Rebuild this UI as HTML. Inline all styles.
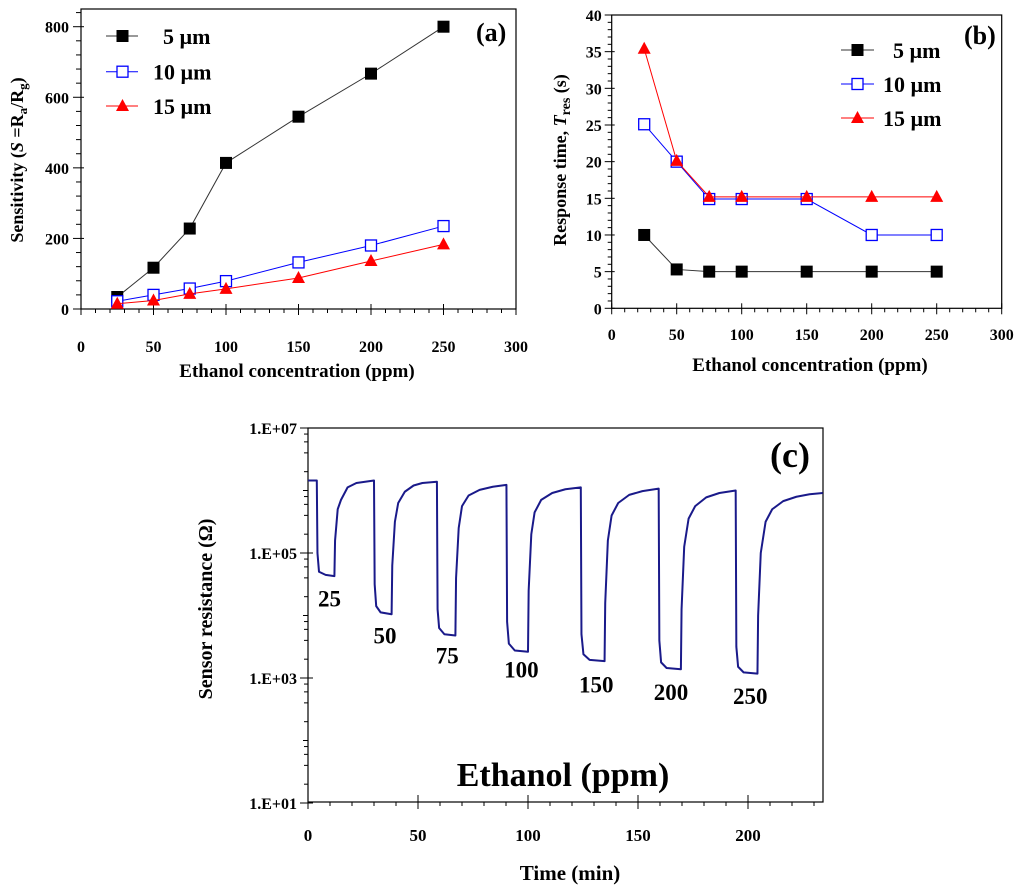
<!DOCTYPE html>
<html><head><meta charset="utf-8"><style>
html,body{margin:0;padding:0;background:#fff;}
svg{display:block;font-family:"Liberation Serif",serif;font-weight:bold;}
</style></head><body>
<svg id="fig" width="1024" height="888" viewBox="0 0 1024 888"></svg>
<script>
// ---------- Panel (a) data ----------
const aConc = [25, 50, 75, 100, 150, 200, 250];
const aS5 = [34, 117, 228, 414, 545, 667, 800];
const aS10 = [22, 40, 58, 79, 132, 180, 235];
const aS15 = [15, 24, 43, 57, 88, 136, 183];
const aXTicks = [0, 50, 100, 150, 200, 250, 300];
const aYTicks = [0, 200, 400, 600, 800];
// ---------- Panel (b) data ----------
const bConc = [25, 50, 75, 100, 150, 200, 250];
const bT5 = [10, 5.3, 5, 5, 5, 5, 5];
const bT10 = [25.1, 20, 14.9, 14.9, 14.9, 10, 10];
const bT15 = [35.4, 20.1, 15.2, 15.2, 15.2, 15.2, 15.2];
const bXTicks = [0, 50, 100, 150, 200, 250, 300];
const bYTicks = [0, 5, 10, 15, 20, 25, 30, 35, 40];
// ---------- Panel (c) data ----------
const cTime = [0,4,4.3,5,8,12,12.3,13.5,15,18,22,30,
 30.3,31,33,38,38.3,39.5,41,44,48,52,58.6,
 58.9,59.6,62,67,67.3,68.5,70,73,78,84,90.2,
 90.5,91.3,94,100,100.3,101.5,103,106,111,117,124,
 124.3,125.2,128,134.8,135.1,136.3,138,141,146,152,159.4,
 159.7,160.5,163,169.5,169.8,171,173,176,181,187,194.4,
 194.7,195.5,198,204.3,204.6,205.8,208,211,216,222,228,234];
const cLogR = [6.16,6.16,5.0,4.7,4.65,4.63,5.2,5.7,5.85,6.05,6.12,6.16,
 4.5,4.15,4.05,4.02,4.8,5.5,5.8,5.98,6.08,6.12,6.14,
 4.1,3.8,3.7,3.68,4.6,5.4,5.75,5.92,6.01,6.06,6.09,
 3.9,3.55,3.44,3.42,4.4,5.3,5.65,5.85,5.96,6.02,6.05,
 3.7,3.38,3.29,3.27,4.2,5.2,5.6,5.8,5.93,5.99,6.03,
 3.6,3.25,3.16,3.14,4.1,5.1,5.55,5.75,5.89,5.96,6.0,
 3.5,3.18,3.09,3.07,4.0,5.0,5.5,5.7,5.83,5.9,5.94,5.96];
const cConcLabels = ["25","50","75","100","150","200","250"];
const cLabelT = [9.8, 35, 63.3, 97, 131, 165, 201];
const cLabelLog = [4.27, 3.68, 3.36, 3.14, 2.9, 2.78, 2.71];
const cXTicks = [0, 50, 100, 150, 200];
const cYTicks = [1, 3, 5, 7];
const cYTickLabels = ["1.E+01","1.E+03","1.E+05","1.E+07"];

const NS = "http://www.w3.org/2000/svg";
const svg = document.getElementById('fig');
function mk(tag, attrs, parent, text){
  const e = document.createElementNS(NS, tag);
  for (const k in attrs) e.setAttribute(k, attrs[k]);
  if (text !== undefined) e.textContent = text;
  (parent || svg).appendChild(e);
  return e;
}
function grp(name){
  const g = mk('g', {});
  
  
  return g;
}

// ---------- Panel A ----------
(function(){
  const L=81, R=516, T=9, B=309;
  const xs = v => L + v*(R-L)/300;
  const ys = v => B - v*(B-26.7)/800;
  const g = grp('panel-a');
  const frame = mk('rect',{x:L,y:T,width:R-L,height:B-T,fill:'none',stroke:'#000','stroke-width':1.2},g);
   
  for(let v=0; v<=300; v+=10){
    const major = v%50===0;
    mk('line',{x1:xs(v),x2:xs(v),y1:B-(major?5:0),y2:B+(major?6:4),stroke:'#000','stroke-width':1},g);
  }
  for(let v=0; v<=840; v+=40){
    if (ys(v) < T) continue;
    const major = v%200===0;
    mk('line',{x1:L-(major?8:5),x2:L+(major?3:0),y1:ys(v),y2:ys(v),stroke:'#000','stroke-width':1},g);
  }
  aXTicks.forEach(v=>{
    const t = mk('text',{x:xs(v),y:352,'text-anchor':'middle','font-size':16},g,String(v));
     
  });
  aYTicks.forEach(v=>{
    const t = mk('text',{x:L-12,y:ys(v)+6,'text-anchor':'end','font-size':16},g,String(v));
     
  });
  const xl = mk('text',{x:297,y:377,'text-anchor':'middle','font-size':19},g,'Ethanol concentration (ppm)');
   
  const yl = mk('text',{x:0,y:0,'text-anchor':'middle','font-size':18,transform:'translate(23,160) rotate(-90)'},g);
   
  mk('tspan',{},yl,'Sensitivity (');
  mk('tspan',{'font-style':'italic'},yl,'S');
  mk('tspan',{},yl,' =R');
  mk('tspan',{'font-size':13,dy:4},yl,'a');
  mk('tspan',{dy:-4},yl,'/R');
  mk('tspan',{'font-size':13,dy:4},yl,'g');
  mk('tspan',{dy:-4},yl,')');
  const pl = mk('text',{x:476,y:41,'font-size':26},g,'(a)');
   
  const series = [
    {vals:aS5, col:'#000', line:'#333', m:'sq-fill', name:'series-5um-a'},
    {vals:aS10, col:'#0000ff', line:'#0000ff', m:'sq-open', name:'series-10um-a'},
    {vals:aS15, col:'#ff0000', line:'#ff0000', m:'tri', name:'series-15um-a'}
  ];
  series.forEach(s=>{
    const sg = mk('g',{},g);
     
    mk('polyline',{points:aConc.map((c,i)=>xs(c)+','+ys(s.vals[i])).join(' '),fill:'none',stroke:s.line,'stroke-width':1},sg);
    aConc.forEach((c,i)=>drawMarker(sg,s.m,xs(c),ys(s.vals[i]),s.col,'point'));
  });
  const lg = mk('g',{},g);
   
  const labels=['5 µm','10 µm','15 µm'], lx=[163,153,153], ly=[36,71.7,106];
  series.forEach((s,i)=>{
    const e = mk('g',{},lg);
     
    mk('line',{x1:106,x2:138,y1:ly[i],y2:ly[i],stroke:s.line,'stroke-width':1},e);
    drawMarker(e,s.m,122.5,ly[i],s.col,'legend-marker');
    mk('text',{x:lx[i],y:ly[i]+8,'font-size':22},e,labels[i]);
  });
})();

function drawMarker(parent, type, x, y, col, name){
  let m;
  if (type==='sq-fill') m = mk('rect',{x:x-6,y:y-6,width:12,height:12,fill:col},parent);
  else if (type==='sq-open') m = mk('rect',{x:x-5.5,y:y-5.5,width:11,height:11,fill:'#fff',stroke:col,'stroke-width':1.3},parent);
  else m = mk('polygon',{points:(x)+','+(y-7)+' '+(x-6.5)+','+(y+5)+' '+(x+6.5)+','+(y+5),fill:col},parent);
  
  
  return m;
}

// ---------- Panel B ----------
(function(){
  const L=611.7, R=1001.7, T=15, B=308.3;
  const xs = v => L + v*(R-L)/300;
  const ys = v => B - v*(B-T)/40;
  const g = grp('panel-b');
  const frame = mk('rect',{x:L,y:T,width:R-L,height:B-T,fill:'none',stroke:'#000','stroke-width':1.2},g);
   
  for(let v=0; v<=300; v+=10){
    const major = v%50===0;
    mk('line',{x1:xs(v),x2:xs(v),y1:B-(major?5:0),y2:B+(major?6:4),stroke:'#000','stroke-width':1},g);
  }
  for(let v=0; v<=40; v+=1){
    const major = v%5===0;
    mk('line',{x1:L-(major?7:4),x2:L+(major?3:0),y1:ys(v),y2:ys(v),stroke:'#000','stroke-width':1},g);
  }
  bXTicks.forEach(v=>{
    const t = mk('text',{x:xs(v),y:340,'text-anchor':'middle','font-size':16},g,String(v));
     
  });
  bYTicks.forEach(v=>{
    const t = mk('text',{x:L-10,y:ys(v)+6,'text-anchor':'end','font-size':16},g,String(v));
     
  });
  const xl = mk('text',{x:810,y:371,'text-anchor':'middle','font-size':19},g,'Ethanol concentration (ppm)');
   
  const yl = mk('text',{x:0,y:0,'text-anchor':'middle','font-size':18,transform:'translate(566,160) rotate(-90)'},g);
   
  mk('tspan',{},yl,'Response time, ');
  mk('tspan',{'font-style':'italic'},yl,'T');
  mk('tspan',{'font-size':14,dy:4},yl,'res');
  mk('tspan',{dy:-4},yl,' (s)');
  const pl = mk('text',{x:964,y:44,'font-size':26},g,'(b)');
   
  const series = [
    {vals:bT5, col:'#000', line:'#333', m:'sq-fill', name:'series-5um-b'},
    {vals:bT10, col:'#0000ff', line:'#0000ff', m:'sq-open', name:'series-10um-b'},
    {vals:bT15, col:'#ff0000', line:'#ff0000', m:'tri', name:'series-15um-b'}
  ];
  series.forEach(s=>{
    const sg = mk('g',{},g);
     
    mk('polyline',{points:bConc.map((c,i)=>xs(c)+','+ys(s.vals[i])).join(' '),fill:'none',stroke:s.line,'stroke-width':1},sg);
    bConc.forEach((c,i)=>drawMarker(sg,s.m,xs(c),ys(s.vals[i]),s.col,'point'));
  });
  const lg = mk('g',{},g);
   
  const labels=['5 µm','10 µm','15 µm'], lx=[893,883,883], ly=[50,84,118];
  series.forEach((s,i)=>{
    const e = mk('g',{},lg);
     
    mk('line',{x1:841,x2:874,y1:ly[i],y2:ly[i],stroke:s.line,'stroke-width':1},e);
    drawMarker(e,s.m,857.5,ly[i],s.col,'legend-marker');
    mk('text',{x:lx[i],y:ly[i]+8,'font-size':22},e,labels[i]);
  });
})();

// ---------- Panel C ----------
(function(){
  const L=308, R=823, T=428, B=802;
  const xs = v => L + v*2.2;
  const ys = v => T + (7 - v)*62.5;
  const g = grp('panel-c');
  const frame = mk('rect',{x:L,y:T,width:R-L,height:B-T,fill:'none',stroke:'#000','stroke-width':1.2},g);
   
  for(let v=0; v<=234; v+=10){
    const major = v%50===0;
    mk('line',{x1:xs(v),x2:xs(v),y1:B-(major?7:0),y2:B+(major?7:4),stroke:'#000','stroke-width':1},g);
  }
  for(let d=1; d<7; d++){
    [2,4,6,8].forEach(k=>{
      const yy = ys(d+Math.log10(k));
      mk('line',{x1:L-4,x2:L,y1:yy,y2:yy,stroke:'#000','stroke-width':1},g);
    });
    if (d%2===0) mk('line',{x1:L-5,x2:L,y1:ys(d),y2:ys(d),stroke:'#000','stroke-width':1},g);
  }
  cYTicks.forEach((v,i)=>{
    mk('line',{x1:L-8,x2:L+5,y1:ys(v),y2:ys(v),stroke:'#000','stroke-width':1},g);
    const t = mk('text',{x:L-11,y:ys(v)+6,'text-anchor':'end','font-size':16},g,cYTickLabels[i]);
     
  });
  cXTicks.forEach(v=>{
    const t = mk('text',{x:xs(v),y:841,'text-anchor':'middle','font-size':17},g,String(v));
     
  });
  const xl = mk('text',{x:570,y:880,'text-anchor':'middle','font-size':21},g,'Time (min)');
   
  const yl = mk('text',{x:0,y:0,'text-anchor':'middle','font-size':20,transform:'translate(212,609) rotate(-90)'},g,'Sensor resistance (Ω)');
   
  const pl = mk('text',{x:790,y:467,'text-anchor':'middle','font-size':36},g,'(c)');
   
  const et = mk('text',{x:563,y:786,'text-anchor':'middle','font-size':34},g,'Ethanol (ppm)');
   
  const line = mk('polyline',{points:cTime.map((t,i)=>xs(t)+','+ys(cLogR[i])).join(' '),fill:'none',stroke:'#1a1a8a','stroke-width':2,'stroke-linejoin':'round'},g);
   
  cConcLabels.forEach((s,i)=>{
    const t = mk('text',{x:xs(cLabelT[i]),y:ys(cLabelLog[i])+8,'text-anchor':'middle','font-size':23},g,s);
     
  });
})();
</script>
</body></html>
